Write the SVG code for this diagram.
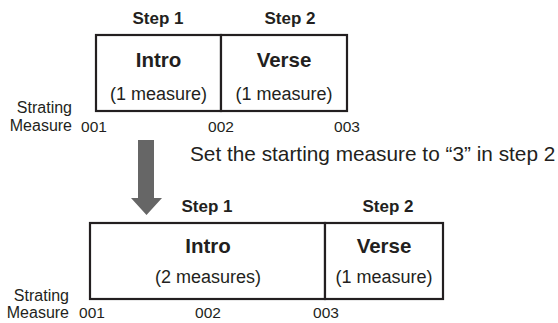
<svg xmlns="http://www.w3.org/2000/svg" width="558" height="323" viewBox="0 0 558 323">
<style>
text{font-family:"Liberation Sans",Arial,sans-serif;fill:#231f20}
.step{font-size:17px;font-weight:bold;text-anchor:middle}
.name{font-size:20.5px;font-weight:bold;text-anchor:middle}
.len{font-size:18px;text-anchor:middle}
.lab{font-size:16px;text-anchor:end}
.num{font-size:15.5px;text-anchor:middle}
.box{fill:#fff;stroke:#231f20;stroke-width:2.2}
</style>
<rect width="558" height="323" fill="#fff"/>
<g id="top">
<text class="step" x="158" y="24">Step 1</text>
<text class="step" x="290" y="24">Step 2</text>
<g id="top-intro"><rect class="box" x="96" y="35" width="125" height="76"/>
<text class="name" x="158.5" y="67">Intro</text>
<text class="len" x="158.5" y="100">(1 measure)</text></g>
<g id="top-verse"><rect class="box" x="221" y="35" width="126" height="76"/>
<text class="name" x="284" y="67">Verse</text>
<text class="len" x="284" y="100">(1 measure)</text></g>
<text class="lab" x="72" y="113">Strating</text>
<text class="lab" x="72" y="131">Measure</text>
<text class="num" x="94" y="132">001</text>
<text class="num" x="221" y="132">002</text>
<text class="num" x="347" y="132">003</text>
</g>
<g id="connectors">
<polygon points="138,140 154,140 154,198 162,198 146.5,215 131,198 138,198" fill="#666"/>
</g>
<text x="190" y="161" style="font-size:20.8px">Set the starting measure to “3” in step 2</text>
<g id="bottom">
<text class="step" x="207" y="212">Step 1</text>
<text class="step" x="388" y="212">Step 2</text>
<g id="bot-intro"><rect class="box" x="90" y="223" width="235" height="76"/>
<text class="name" x="208" y="253">Intro</text>
<text class="len" x="208" y="283">(2 measures)</text></g>
<g id="bot-verse"><rect class="box" x="325" y="223" width="118" height="76"/>
<text class="name" x="384" y="253">Verse</text>
<text class="len" x="384" y="283">(1 measure)</text></g>
<text class="lab" x="69" y="301">Strating</text>
<text class="lab" x="69" y="318">Measure</text>
<text class="num" x="92" y="318">001</text>
<text class="num" x="208" y="318">002</text>
<text class="num" x="326" y="318">003</text>
</g>
</svg>
